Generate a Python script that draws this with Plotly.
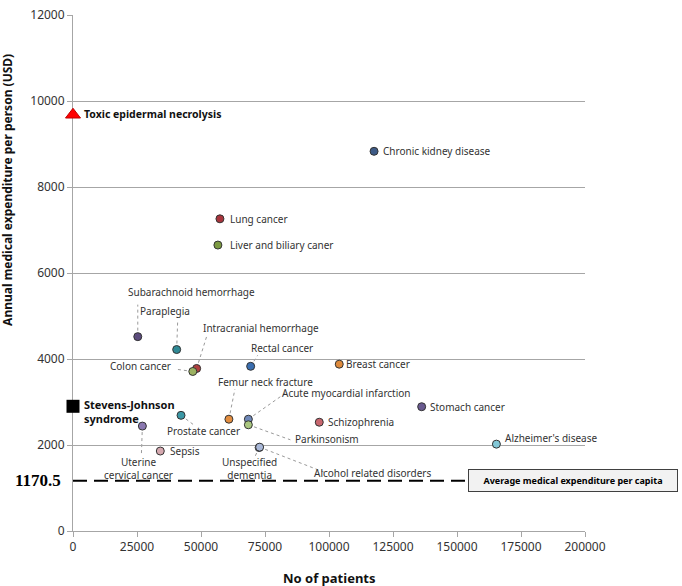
import plotly.graph_objects as go

# ---- data ----
diseases = ["Chronic kidney disease", "Lung cancer", "Liver and biliary caner",
            "Subarachnoid hemorrhage", "Paraplegia", "Intracranial hemorrhage",
            "Colon cancer", "Rectal cancer", "Breast cancer", "Femur neck fracture",
            "Acute myocardial infarction", "Parkinsonism", "Prostate cancer",
            "Uterine<br>cervical cancer", "Sepsis", "Unspecified<br>dementia",
            "Alcohol related disorders", "Schizophrenia", "Stomach cancer",
            "Alzheimer's disease"]
patients = [117600, 57400, 56600, 25300, 40500, 48300, 46800, 69400, 104000, 60900,
            68500, 68500, 42200, 27100, 34100, 72700, 72900, 96200, 136200, 165400]
expenditure = [8830, 7260, 6650, 4520, 4220, 3780, 3710, 3830, 3880, 2600,
               2600, 2470, 2690, 2440, 1860, 1940, 1950, 2530, 2890, 2020]

ten_name = "Toxic epidermal necrolysis"
ten_patients = [0]
ten_expenditure = [9680]
sjs_name = "Stevens-Johnson<br>syndrome"
sjs_patients = [0]
sjs_expenditure = [2900]

avg_expenditure = 1170.5
avg_label = "Average medical expenditure per capita"

x_ticks = [0, 25000, 50000, 75000, 100000, 125000, 150000, 175000, 200000]
y_ticks = [0, 2000, 4000, 6000, 8000, 10000, 12000]

# ---- styling ----
colors = ["#3d5a86", "#a8343c", "#7c9a42", "#5b4b7c", "#2f8995", "#b0403f",
          "#9cb262", "#3a6eb0", "#de8a3c", "#e48e40", "#6f88b8", "#a9c67f",
          "#3b98a6", "#8a78b0", "#d6a9b0", "#a9b8d8", "#a9b8d8", "#c8666e",
          "#695a90", "#82c7d6"]
# (mode, text dx, text dy, leader dx, leader dy) in screen pixels
label_pos = [
    ("left", 7, 0, None, None),
    ("left", 8, 0, None, None),
    ("left", 10, 0, None, None),
    ("center", 54, -45, 0, -32),
    ("center", -12, -39, 1, -29),
    ("center", 64, -40, 10, -32),
    ("right", -20, -5, -15, -2),
    ("center", 31, -18, 7, -11),
    ("left", 5, 0, None, None),
    ("center", 37, -37, 6, -30),
    ("center", 98, -26, 37, -26),
    ("center", 79, 14, 42, 15),
    ("center", 22, 16, 12, 9),
    ("center", -4, 42, -1, 29),
    ("left", 8, 0, None, None),
    ("center", -10, 21, -5, 11),
    ("center", 113, 26, 67, 26),
    ("left", 7, 0, None, None),
    ("left", 6, 0, None, None),
    ("left", 7, -6, None, None),
]

font_fam = "Noto Sans, Open Sans, sans-serif"
fig = go.Figure()

annotations = []
shapes = []
for name, xv, yv, (mode, dx, dy, lx, ly) in zip(diseases, patients, expenditure, label_pos):
    annotations.append(dict(
        x=xv, y=yv, xref="x", yref="y", text=name, showarrow=False,
        xanchor=mode, yanchor="middle", xshift=dx, yshift=-dy,
        font=dict(family=font_fam, size=10, color="#333333"), align="center"))
    if lx is not None:
        shapes.append(dict(
            type="line", xref="x", yref="y", xsizemode="pixel", ysizemode="pixel",
            xanchor=xv, yanchor=yv, x0=0, y0=0, x1=lx, y1=-ly,
            line=dict(color="#9a9a9a", width=1, dash="dot"), layer="below"))

fig.add_trace(go.Scatter(
    x=patients, y=expenditure, mode="markers", cliponaxis=False,
    marker=dict(size=8, color=colors, line=dict(color="#333333", width=1)),
    hovertext=diseases, showlegend=False))

fig.add_trace(go.Scatter(
    x=ten_patients, y=ten_expenditure, mode="markers", cliponaxis=False,
    marker=dict(symbol="triangle-up", size=13, color="#ff0000",
                line=dict(color="#c00000", width=1)),
    showlegend=False))
fig.add_trace(go.Scatter(
    x=sjs_patients, y=sjs_expenditure, mode="markers", cliponaxis=False,
    marker=dict(symbol="square", size=13, color="#000000", line=dict(width=0)),
    showlegend=False))

annotations.append(dict(
    x=ten_patients[0], y=ten_expenditure[0], xref="x", yref="y", text="<b>%s</b>" % ten_name,
    showarrow=False, xanchor="left", yanchor="middle", xshift=9, yshift=1,
    font=dict(family=font_fam, size=10.5, color="#111111")))
annotations.append(dict(
    x=sjs_patients[0], y=sjs_expenditure[0], xref="x", yref="y", text="<b>%s</b>" % sjs_name,
    showarrow=False, xanchor="left", yanchor="middle", xshift=9, yshift=-5, align="left",
    font=dict(family=font_fam, size=11, color="#111111")))

# average line
shapes.append(dict(type="line", xref="paper", yref="y", x0=0, x1=1,
                   y0=avg_expenditure, y1=avg_expenditure,
                   line=dict(color="#000000", width=2, dash="14px,7px"), layer="above"))
annotations.append(dict(
    x=(468 - 73) / 512, y=avg_expenditure, xref="paper", yref="y",
    text="<b>%s</b>" % avg_label, showarrow=False, xanchor="left", yanchor="middle",
    bgcolor="#f2f2f2", bordercolor="#404040", borderwidth=1, borderpad=4,
    width=200, font=dict(family=font_fam, size=9, color="#000000")))
annotations.append(dict(
    x=0, y=avg_expenditure, xref="paper", yref="y", text="<b>%s</b>" % avg_expenditure,
    showarrow=False, xanchor="right", yanchor="middle", xshift=-10,
    font=dict(family="Liberation Serif, Times New Roman, serif", size=17, color="#000000")))

# axis titles
annotations.append(dict(
    x=0, y=0.661, xref="paper", yref="paper", text="<b>Annual medical expenditure per person (USD)</b>",
    showarrow=False, textangle=-90, xanchor="center", yanchor="middle", xshift=-65,
    font=dict(family=font_fam, size=12, color="#111111")))
annotations.append(dict(
    x=0.5, y=0, xref="paper", yref="paper", text="<b>No of patients</b>",
    showarrow=False, xanchor="center", yanchor="middle", yshift=-47,
    font=dict(family=font_fam, size=13, color="#111111")))

fig.update_layout(
    width=682, height=586,
    margin=dict(l=73, r=97, t=6, b=55),
    paper_bgcolor="white", plot_bgcolor="white",
    annotations=annotations, shapes=shapes,
    xaxis=dict(range=[0, 200000], tickvals=x_ticks, ticktext=[str(v) for v in x_ticks],
               showgrid=False, zeroline=False, showline=True, linecolor="#a6a6a6", linewidth=1,
               ticks="outside", ticklen=5, tickcolor="#a6a6a6", layer="below traces",
               ticklabeloverflow="allow",
               tickfont=dict(family=font_fam, size=12, color="#333333")),
    yaxis=dict(range=[0, 12000], tickvals=y_ticks, ticktext=[str(v) for v in y_ticks],
               showgrid=True, gridcolor="#a6a6a6", gridwidth=1, zeroline=False,
               showline=True, linecolor="#a6a6a6", linewidth=1,
               ticks="outside", ticklen=5, tickcolor="#a6a6a6", layer="below traces",
               ticklabeloverflow="allow",
               tickfont=dict(family=font_fam, size=12, color="#333333")),
)

fig.write_html("out.html", config={"displayModeBar": False},
               post_script="document.body.style.margin='0';document.body.style.padding='0';")
